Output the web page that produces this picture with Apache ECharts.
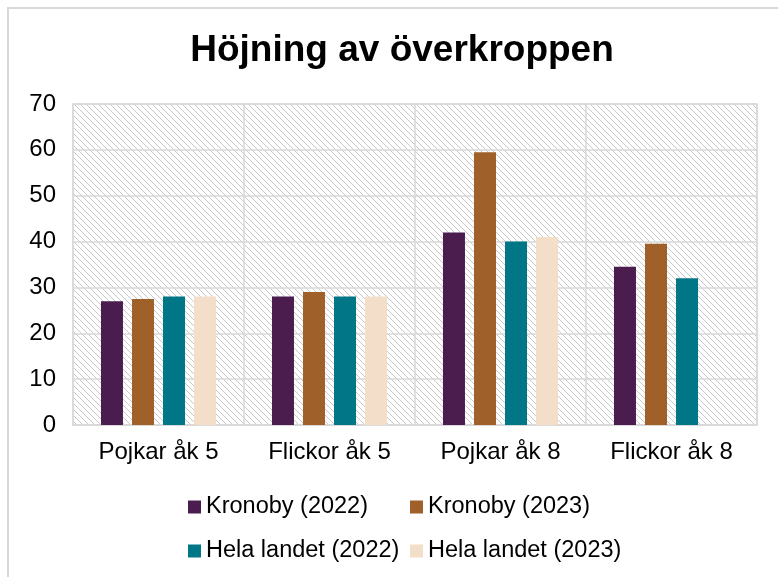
<!DOCTYPE html>
<html>
<head>
<meta charset="utf-8">
<script src="https://cdn.jsdelivr.net/npm/echarts@6/dist/echarts.min.js"></script>
<style>
  html, body { margin: 0; padding: 0; background: #fff; }
  #main { width: 778px; height: 577px; }
</style>
</head>
<body>
<div id="main"></div>
<script>
// data
const categories = ["Pojkar åk 5", "Flickor åk 5", "Pojkar åk 8", "Flickor åk 8"];
const kronoby2022 = [27, 28, 42, 34.5];
const kronoby2023 = [27.5, 29, 59.5, 39.5];
const helaLandet2022 = [28, 28, 40, 32];
const helaLandet2023 = [28, 28, 41, null];
const seriesNames = ["Kronoby (2022)", "Kronoby (2023)", "Hela landet (2022)", "Hela landet (2023)"];
const colors = ["#4a1d4e", "#a0602a", "#007686", "#f3dfc9"];

// diagonal pixel hatch for the plot background
const hatch = document.createElement("canvas");
hatch.width = 6;
hatch.height = 6;
const hctx = hatch.getContext("2d");
hctx.fillStyle = "#ffffff";
hctx.fillRect(0, 0, 6, 6);
hctx.fillStyle = "#c8c8c8";
for (let i = 0; i < 6; i++) {
  hctx.fillRect(i, i, 1, 1);
}

const chart = echarts.init(document.getElementById("main"));
const font = "Liberation Sans, Arial, sans-serif";
const gridLine = { lineStyle: { color: "#d9d9d9", width: 1.5 } };

const option = {
  backgroundColor: "#ffffff",
  textStyle: { fontFamily: font },
  graphic: [{
    type: "rect",
    shape: { x: 8, y: 8, width: 790, height: 600 },
    style: { fill: "none", stroke: "#d9d9d9", lineWidth: 2 },
    silent: true
  }],
  title: {
    text: "Höjning av överkroppen",
    left: 397,
    textAlign: "center",
    top: 27,
    textStyle: { fontSize: 37, fontWeight: "bold", color: "#000", fontFamily: font }
  },
  legend: [
    {
      data: [seriesNames[0], seriesNames[2]],
      orient: "vertical",
      left: 183, top: 490,
      itemWidth: 13, itemHeight: 13, itemGap: 20,
      icon: "rect",
      textStyle: { fontSize: 23.5, color: "#000", fontFamily: font }
    },
    {
      data: [seriesNames[1], seriesNames[3]],
      orient: "vertical",
      left: 405, top: 490,
      itemWidth: 13, itemHeight: 13, itemGap: 20,
      icon: "rect",
      textStyle: { fontSize: 23.5, color: "#000", fontFamily: font }
    }
  ],
  grid: {
    left: 73, right: 21, top: 104, bottom: 152,
    show: true,
    backgroundColor: { image: hatch, repeat: "repeat" },
    borderColor: "#d9d9d9",
    borderWidth: 1.5
  },
  xAxis: {
    type: "category",
    data: categories,
    axisLine: { show: true, lineStyle: { color: "#d9d9d9", width: 1.5 } },
    axisTick: { show: false },
    splitLine: Object.assign({ show: true }, gridLine),
    axisLabel: { fontSize: 24, color: "#000", margin: 15, fontFamily: font }
  },
  yAxis: {
    type: "value",
    min: 0, max: 70, interval: 10,
    axisLine: { show: false },
    axisTick: { show: false },
    splitLine: Object.assign({ show: true }, gridLine),
    axisLabel: { fontSize: 24, color: "#000", margin: 17, fontFamily: font }
  },
  series: [kronoby2022, kronoby2023, helaLandet2022, helaLandet2023].map((d, i) => ({
    name: seriesNames[i],
    type: "bar",
    data: d,
    barWidth: 22,
    barGap: "41%",
    itemStyle: { color: colors[i] }
  }))
};

chart.setOption(option);
window.addEventListener("resize", () => chart.resize());
</script>
</body>
</html>
